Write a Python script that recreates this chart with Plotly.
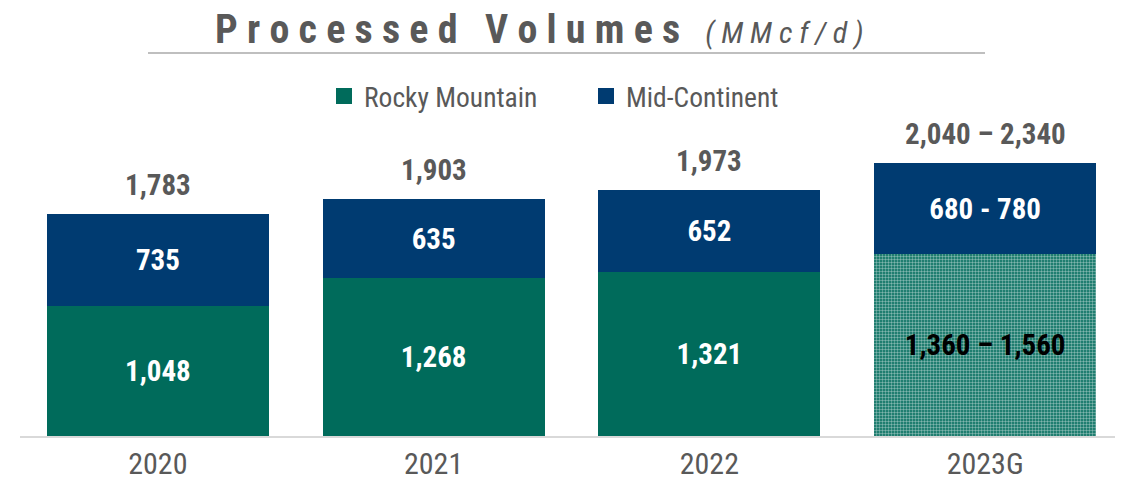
import plotly.graph_objects as go

# ---- data ----
categories = ["2020", "2021", "2022", "2023G"]
rocky_low = [1048, 1268, 1321, 1360]
rocky_high = [1048, 1268, 1321, 1560]
mid_low = [735, 635, 652, 680]
mid_high = [735, 635, 652, 780]
rocky_labels = ["1,048", "1,268", "1,321", "1,360 – 1,560"]
mid_labels = ["735", "635", "652", "680 - 780"]
total_labels = ["1,783", "1,903", "1,973", "2,040 – 2,340"]

rocky = [(a + b) / 2 for a, b in zip(rocky_low, rocky_high)]
mid = [(a + b) / 2 for a, b in zip(mid_low, mid_high)]
totals = [r + m for r, m in zip(rocky, mid)]

GREEN = "#006B5B"
NAVY = "#003B71"
GRAY = "#595959"
FONT = "Roboto Condensed, Arial Narrow, Liberation Sans, Arial, sans-serif"

# page body has an 8px margin: figure is placed at (8, 8) in the window
OFF = 8
W, H = 1123 - OFF, 482 - OFF
ML, MR, MT, MB = 20 - OFF, 0, 60 - OFF, 482 - 436
PW, PH = W - ML - MR, H - MT - MB


def px_x(sx):
    return (sx - OFF - ML) / PW


def px_y(sy):
    return 1 - (sy - OFF - MT) / PH


fig = go.Figure()

is_guid = [c.endswith("G") for c in categories]

fig.add_trace(go.Bar(
    x=categories, y=rocky, name="Rocky Mountain", showlegend=False,
    marker=dict(
        color=GREEN, line=dict(width=0),
        pattern=dict(
            shape=["." if g else "" for g in is_guid],
            bgcolor=GREEN, fgcolor="white", size=3, solidity=0.5,
        ),
    ),
    text=rocky_labels, textposition="inside", insidetextanchor="middle",
    textangle=0, constraintext="none",
    textfont=dict(family=FONT, size=29, weight="bold",
                  color=["black" if g else "white" for g in is_guid]),
    hoverinfo="skip",
))
fig.add_trace(go.Bar(
    x=categories, y=mid, name="Mid-Continent", showlegend=False,
    marker=dict(color=NAVY, line=dict(width=0)),
    text=mid_labels, textposition="inside", insidetextanchor="middle",
    textangle=0, constraintext="none",
    textfont=dict(family=FONT, size=29, weight="bold", color="white"),
    hoverinfo="skip",
))

# legend proxies
for nm, col in [("Rocky Mountain", GREEN), ("Mid-Continent", NAVY)]:
    fig.add_trace(go.Scatter(
        x=[None], y=[None], mode="markers", name=nm,
        marker=dict(symbol="square", size=16, color=col),
    ))

# total labels above each stack (x given as category index)
for i, (t, lab) in enumerate(zip(totals, total_labels)):
    fig.add_annotation(
        x=i, y=t, xref="x", yref="y", text=f"<b>{lab}</b>", showarrow=False,
        yanchor="middle", yshift=29,
        font=dict(family=FONT, size=29, color=GRAY),
    )

title_main = "\u00a0\u00a0\u00a0".join(" ".join(w) for w in ["Processed", "Volumes"])
title_sub = " ".join("(MMcf/d)")
fig.add_annotation(
    xref="paper", yref="paper", x=px_x(539), y=px_y(29),
    xanchor="center", yanchor="middle", showarrow=False,
    text=(f"<b>{title_main}</b>\u00a0\u00a0"
          f"<i><span style='font-size:30px'>\u00a0{title_sub}</span></i>"),
    font=dict(family=FONT, size=40, color=GRAY),
)
fig.add_shape(
    type="line", xref="paper", yref="paper",
    x0=px_x(148), x1=px_x(985), y0=px_y(53), y1=px_y(53),
    line=dict(color="#BFBFBF", width=2),
)

fig.update_layout(
    width=W, height=H,
    margin=dict(l=ML, r=MR, t=MT, b=MB, autoexpand=False),
    barmode="stack", bargap=0.195,
    plot_bgcolor="white", paper_bgcolor="white",
    font=dict(family=FONT, color=GRAY),
    showlegend=True,
    legend=dict(
        orientation="h", x=px_x(324), y=px_y(96), xanchor="left", yanchor="middle",
        font=dict(family=FONT, size=27.5, color=GRAY),
        entrywidth=217, entrywidthmode="pixels", traceorder="normal",
        bgcolor="rgba(0,0,0,0)",
    ),
    xaxis=dict(
        type="category", range=[-0.5, 3.5], automargin=False,
        showline=True, linecolor="#D9D9D9", linewidth=2,
        ticks="", showgrid=False, zeroline=False,
        tickfont=dict(family=FONT, size=30, color=GRAY),
        ticklabelstandoff=0,
    ),
    yaxis=dict(range=[0, PH / 0.1245], visible=False, showgrid=False, zeroline=False,
               automargin=False),
)

fig.write_html("out.html")
